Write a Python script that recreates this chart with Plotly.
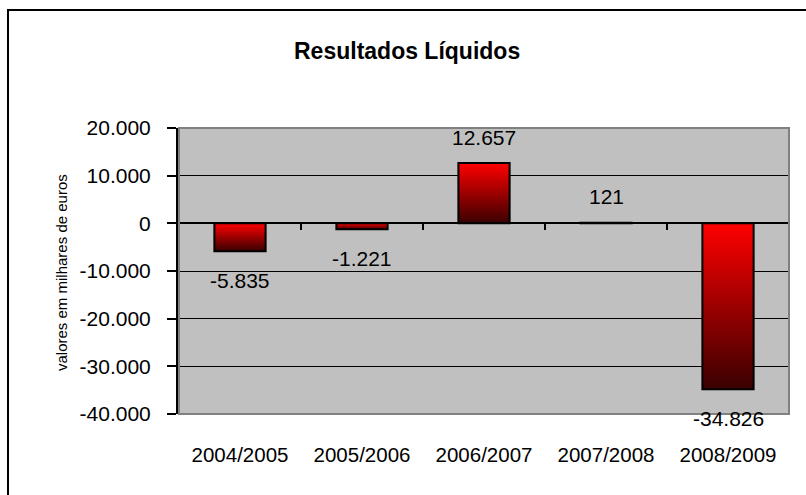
import plotly.graph_objects as go

categories = ["2004/2005", "2005/2006", "2006/2007", "2007/2008", "2008/2009"]
values = [-5835, -1221, 12657, 121, -34826]
value_labels = ["-5.835", "-1.221", "12.657", "121", "-34.826"]
y_tickvals = [-40000, -30000, -20000, -10000, 0, 10000, 20000]
y_ticktext = ["-40.000", "-30.000", "-20.000", "-10.000", "0", "10.000", "20.000"]
title_text = "Resultados Líquidos"
y_title = "valores em milhares de euros"

W, H = 806, 495
ML, MR, MT, MB = 179, 17, 128, 81
PW, PH = W - ML - MR, H - MT - MB
YMIN, YMAX = -40000, 20000
BAR_W = 0.42
FONT = "Liberation Sans, Arial, sans-serif"


def px_x(p):
    return (p - ML) / PW


def px_y(p):
    return (H - MB - p) / PH


fig = go.Figure()

# gradient fills of bars
for i, v in enumerate(values):
    x0, x1 = i - BAR_W / 2, i + BAR_W / 2
    fig.add_trace(go.Scatter(
        x=[x0, x1, x1, x0, x0], y=[0, 0, v, v, 0],
        mode="lines", line=dict(width=0, color="rgba(0,0,0,0)"),
        fill="toself",
        fillgradient=dict(type="vertical",
                          colorscale=[[0, "#3a0000"], [1, "#ff0000"]]),
        hoverinfo="skip", showlegend=False,
    ))

# bar outlines (on overlay axis so they draw above the gradient fills)
fig.add_trace(go.Bar(
    x=list(range(len(categories))), y=values, width=BAR_W, xaxis="x2",
    marker=dict(color="rgba(0,0,0,0)", line=dict(color="black", width=2)),
    showlegend=False,
))

zero_pos = (0 - YMIN) / (YMAX - YMIN)

fig.update_layout(
    width=W, height=H,
    margin=dict(l=ML, r=MR, t=MT, b=MB),
    paper_bgcolor="white",
    plot_bgcolor="#c0c0c0",
    showlegend=False,
    font=dict(family=FONT, size=20, color="black"),
    xaxis=dict(
        range=[-0.5, len(categories) - 0.5],
        tickvals=list(range(len(categories))), ticktext=categories,
        ticks="", showgrid=False, zeroline=False, showline=False,
        tickfont=dict(size=20.5), ticklabelstandoff=26,
    ),
    xaxis2=dict(
        overlaying="x", anchor="free", position=zero_pos,
        range=[-0.5, len(categories) - 0.5],
        tickvals=[k + 0.5 for k in range(-1, len(categories))],
        showticklabels=False, ticks="outside", ticklen=6, tickwidth=2,
        tickcolor="black", showline=True, linecolor="black", linewidth=2,
        showgrid=False, zeroline=False,
    ),
    yaxis=dict(
        range=[YMIN, YMAX], tickvals=y_tickvals, ticktext=y_ticktext,
        ticks="outside", ticklen=9, tickwidth=2, tickcolor="black",
        showline=True, linecolor="black", linewidth=3,
        showgrid=True, gridcolor="black", gridwidth=1,
        zeroline=False, tickfont=dict(size=21), ticklabelstandoff=12,
    ),
)

# plot area frame (gray)
fig.add_shape(type="rect", xref="x domain", yref="y domain", x0=0, y0=0, x1=1, y1=1,
              line=dict(color="#808080", width=2), layer="above")
# outer chart border
fig.add_shape(type="rect", xref="paper", yref="paper",
              x0=px_x(8), y0=px_y(H + 10), x1=px_x(W + 10), y1=px_y(10),
              line=dict(color="black", width=2))

# data labels
for i, (v, t) in enumerate(zip(values, value_labels)):
    fig.add_annotation(x=i, y=v, text=t, showarrow=False,
                       yshift=26 if v >= 0 else -29, yanchor="middle",
                       font=dict(size=21, family=FONT, color="black"))

# title
fig.add_annotation(xref="paper", yref="paper", x=px_x(407), y=px_y(51),
                   text="<b>" + title_text + "</b>", showarrow=False,
                   xanchor="center", yanchor="middle",
                   font=dict(size=23, family=FONT, color="black"))
# y axis title
fig.add_annotation(xref="paper", yref="paper", x=px_x(61), y=px_y(273),
                   text=y_title, showarrow=False, textangle=-90,
                   xanchor="center", yanchor="middle",
                   font=dict(size=15, family=FONT, color="black"))

fig.write_html("out.html", config={"displayModeBar": False},
               post_script="document.body.style.margin='0';")
